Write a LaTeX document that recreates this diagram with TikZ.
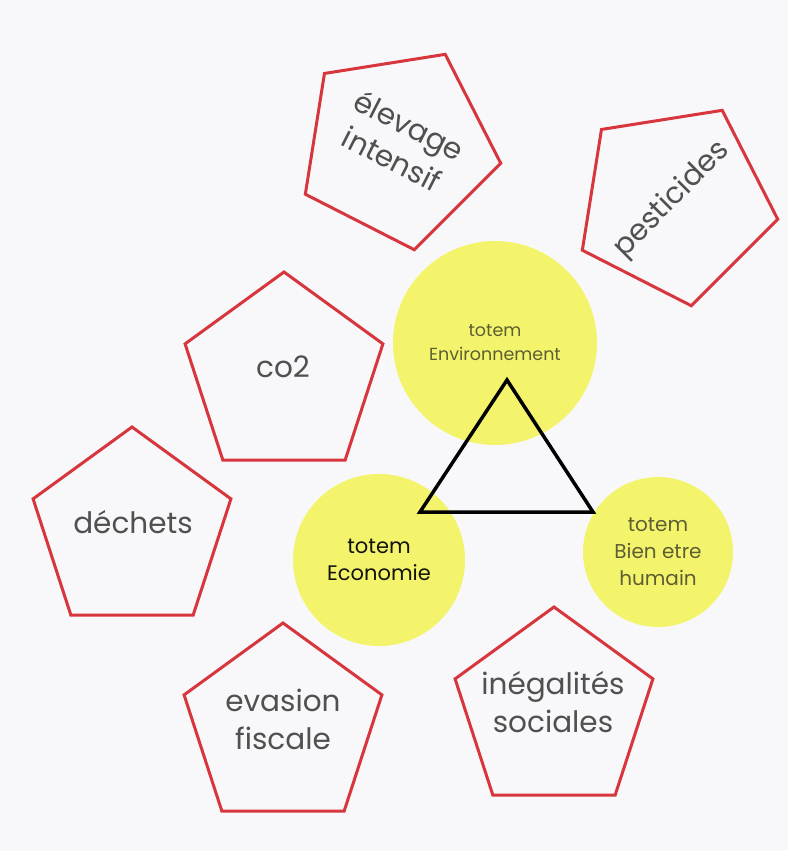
\documentclass[tikz,border=0pt]{standalone}
\usepackage{fontspec}
\setmainfont{Poppins}
\usetikzlibrary{shapes.geometric}
\definecolor{bg}{HTML}{F8F8FA}
\definecolor{pentred}{HTML}{D7363D}
\definecolor{totemyellow}{HTML}{F4F46C}
\definecolor{txtgray}{HTML}{505050}
\definecolor{totemtxt}{HTML}{5E5E34}
\tikzset{
  pent/.style={regular polygon, regular polygon sides=5, draw=pentred, line width=3pt,
    minimum size=208pt, inner sep=0pt},
  lbl/.style={text=txtgray, align=center, inner sep=0pt, font=\fontsize{29.5}{38}\selectfont},
  totem/.style={circle, fill=totemyellow, inner sep=0pt, text=totemtxt, align=center}
}
\begin{document}
\begin{tikzpicture}[x=1pt,y=-1pt]
        \fill[bg] (0,0) rectangle (788,851);
        \useasboundingbox (0,0) rectangle (788,851);
        \node[totem, minimum size=204pt, font=\fontsize{17.5}{24}\selectfont] (env) at (495,343) {totem\\Environnement};
        \node[totem, minimum size=172pt, text=black!80!totemtxt, font=\fontsize{21}{27}\selectfont] (eco) at (379,560) {totem\\Economie};
        \node[totem, minimum size=150pt, font=\fontsize{20}{27}\selectfont] (hum) at (658,552) {totem\\Bien etre\\humain};
        \coordinate (top) at (507,380);
        \coordinate (left) at (420,512);
        \coordinate (right) at (593,512);
        \draw[line width=3.5pt] (top) -- (left) -- (right) -- cycle;
        \node[pent, rotate=-27] (elev) at (398,147) {};
        \node[lbl, rotate=-27] (elevtxt) at (401,142) {élevage\\intensif};
        \node[pent, rotate=45] (pest) at (675,203) {};
        \node[lbl, rotate=45] (pesttxt) at (672,200) {pesticides};
        \node[pent] (co2) at (284,376) {};
        \node[lbl] (co2txt) at (283,367) {co2};
        \node[pent] (dech) at (132,531) {};
        \node[lbl] (dechtxt) at (133,522) {déchets};
        \node[pent] (evas) at (283,727) {};
        \node[lbl] (evastxt) at (283,719) {evasion\\fiscale};
        \node[pent] (ineg) at (554,711) {};
        \node[lbl] (inegtxt) at (553,702) {inégalités\\sociales};
\end{tikzpicture}
\end{document}
